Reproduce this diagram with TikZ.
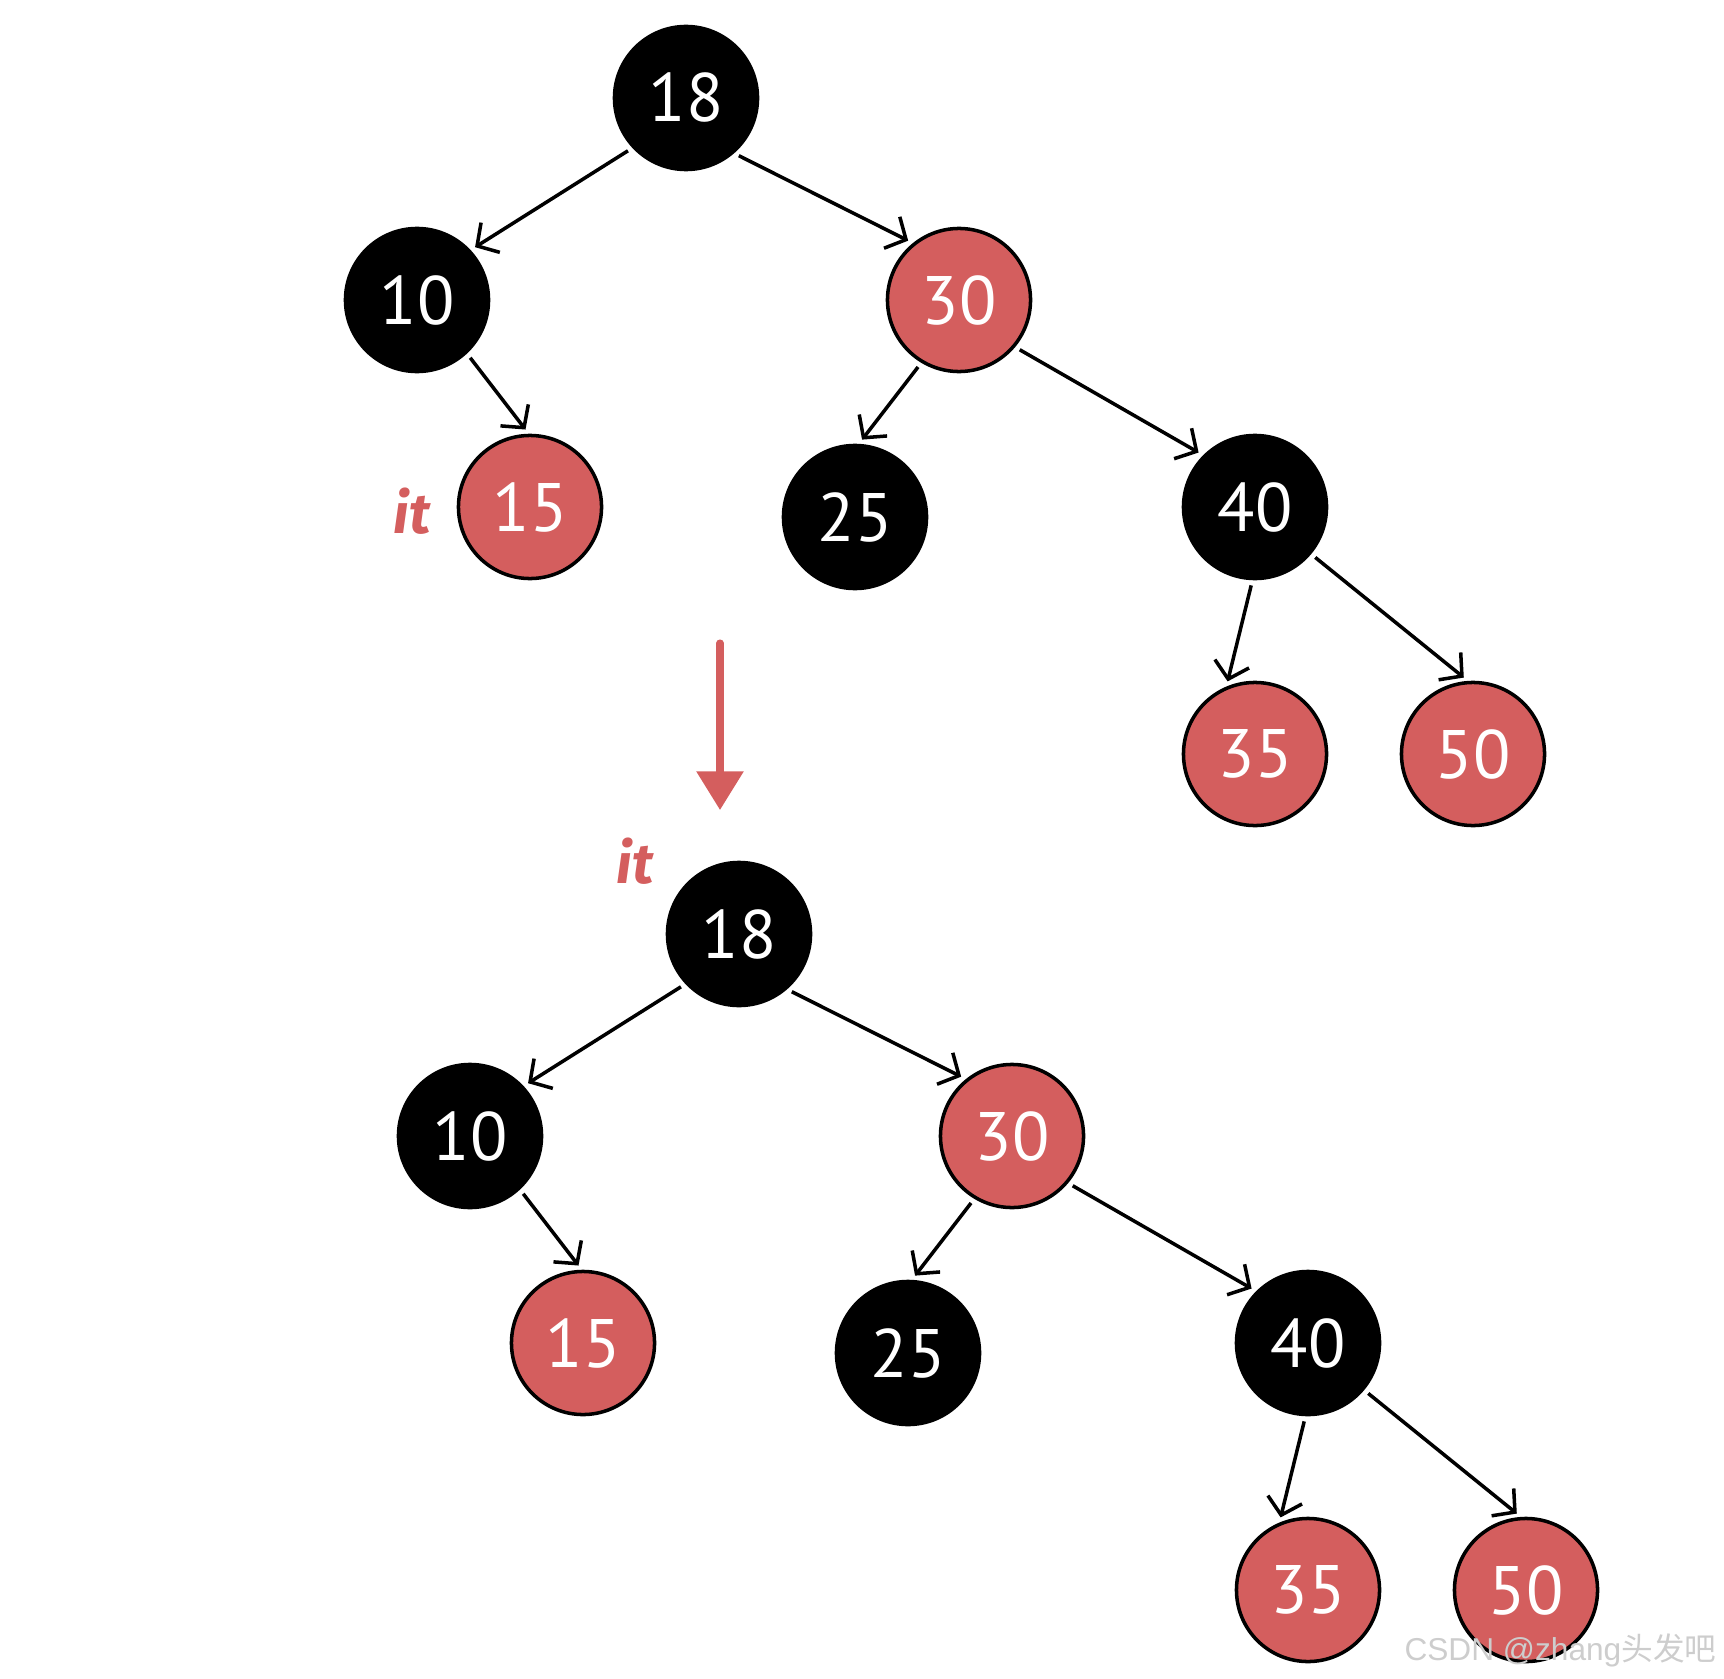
\documentclass[tikz,border=0pt]{standalone}
\usepackage{fontspec}
\setmainfont{PT Sans}
\newfontfamily\itfont{Fira Sans}
\newfontfamily\cjk{Noto Sans CJK SC}
\newfontfamily\wmfont{Liberation Sans}
\usetikzlibrary{arrows.meta}
\definecolor{nodered}{RGB}{212,94,94}
\definecolor{wmgray}{RGB}{205,205,205}

\begin{document}
\begin{tikzpicture}[x=0.01cm, y=-0.01cm,
  every node/.style={font=\fontsize{19.5}{20}\selectfont},
  bnode/.style={circle, fill=black, draw=black, line width=1pt, minimum size=1.43cm, inner sep=0pt, text=white},
  rnode/.style={bnode, fill=nodered},
  edge/.style={-{Straight Barb[length=4.5pt,width=10pt]}, line width=1pt, shorten <=1.5pt, shorten >=1.5pt},
  itlabel/.style={text=nodered, font=\itfont\fontsize{16}{18}\selectfont\bfseries\itshape}]
  \useasboundingbox (0,0) rectangle (1724,1679);
  % before (a) and after (b): the same tree twice
  \foreach \tr/\dx/\dy in {a/0/0, b/53/836} {
    \begin{scope}[shift={(\dx,\dy)}, name prefix=\tr-]
      \node[bnode] (n18) at (686,98) {18};
      \node[bnode] (n10) at (417,300) {10};
      \node[rnode] (n30) at (959,300) {30};
      \node[rnode] (n15) at (530,507) {15};
      \node[bnode] (n25) at (855,517) {25};
      \node[bnode] (n40) at (1255,507) {40};
      \node[rnode] (n35) at (1255,754) {35};
      \node[rnode] (n50) at (1473,754) {50};
      \draw[edge] (n18.-137) -- (n10.43);
      \draw[edge] (n18.-49) -- (n30.129);
      \draw[edge] (n10.-47) -- (n15.91);
      \draw[edge] (n30.-121) -- (n25.87);
      \draw[edge] (n30.-40) -- (n40.135);
      \draw[edge] (n40.-92) -- (n35.113);
      \draw[edge] (n40.-40) -- (n50.94);
    \end{scope}
  }
  % iterator marks
  \node[itlabel] (ittop) at (412,511) {it};
  \node[itlabel] (itbot) at (635,861) {it};
  % step arrow
  \coordinate (steptop) at (720,643);
  \coordinate (stepbot) at (720,810);
  \draw[nodered, line width=2pt, line cap=round, -{Triangle[width=13pt,length=11pt]}] (steptop) -- (stepbot);
  % watermark
  \node[text=wmgray, font=\wmfont\fontsize{9}{11}\selectfont, anchor=east, inner sep=0pt] (wm) at (1717,1650) {CSDN @zhang{\cjk 头发吧}};
\end{tikzpicture}
\end{document}
